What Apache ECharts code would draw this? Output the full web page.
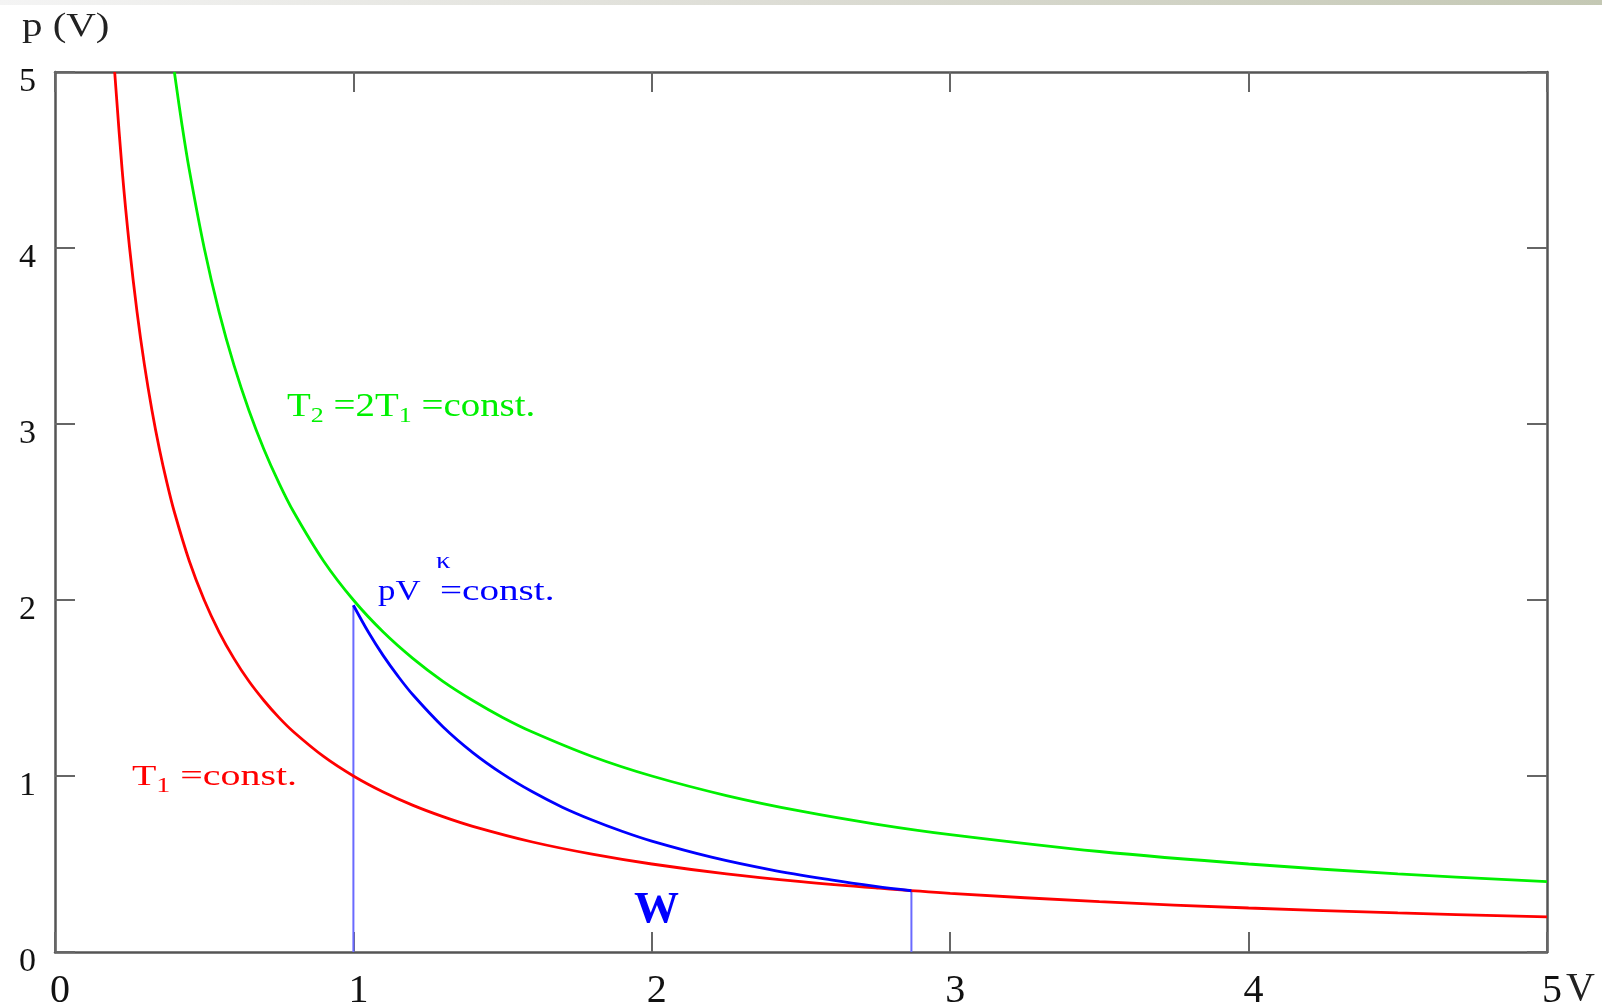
<!DOCTYPE html>
<html>
<head>
<meta charset="utf-8">
<script src="https://cdn.jsdelivr.net/npm/echarts@6/dist/echarts.min.js"></script>
<style>
html,body{margin:0;padding:0;background:#fff;}
#c{width:1602px;height:1007px;}
</style>
</head>
<body>
<div id="c"></div>
<script>
// Tick labels
var xTicks = [0, 1, 2, 3, 4, 5];
var yTicks = [0, 1, 2, 3, 4, 5];

// Isotherm T1 = const. (red): [V, p]
var isoT1 = [
  [0.2, 5.000], [0.225, 4.444], [0.25, 4.000], [0.275, 3.636], [0.3, 3.333],
  [0.325, 3.077], [0.35, 2.857], [0.375, 2.667], [0.4, 2.500], [0.45, 2.222],
  [0.5, 2.000], [0.55, 1.818], [0.6, 1.667], [0.65, 1.538], [0.7, 1.429],
  [0.75, 1.333], [0.8, 1.250], [0.9, 1.111], [1.0, 1.000], [1.1, 0.909],
  [1.2, 0.833], [1.3, 0.769], [1.4, 0.714], [1.6, 0.625], [1.8, 0.556],
  [2.0, 0.500], [2.25, 0.444], [2.5, 0.400], [2.75, 0.364], [3.0, 0.333],
  [3.5, 0.286], [4.0, 0.250], [4.5, 0.222], [5.0, 0.200]
];

// Isotherm T2 = 2T1 = const. (green): [V, p]
var isoT2 = [
  [0.4, 5.000], [0.425, 4.706], [0.45, 4.444], [0.5, 4.000], [0.55, 3.636],
  [0.6, 3.333], [0.65, 3.077], [0.7, 2.857], [0.75, 2.667], [0.8, 2.500],
  [0.9, 2.222], [1.0, 2.000], [1.1, 1.818], [1.2, 1.667], [1.3, 1.538],
  [1.4, 1.429], [1.5, 1.333], [1.6, 1.250], [1.8, 1.111], [2.0, 1.000],
  [2.25, 0.889], [2.5, 0.800], [2.75, 0.727], [3.0, 0.667], [3.5, 0.571],
  [4.0, 0.500], [4.5, 0.444], [5.0, 0.400]
];

// Adiabat pV^kappa = const. (blue): [V, p]
var adiabat = [
  [1.0, 1.970], [1.05, 1.818], [1.1, 1.684], [1.15, 1.566], [1.2, 1.460],
  [1.3, 1.280], [1.4, 1.133], [1.5, 1.012], [1.6, 0.910], [1.7, 0.823],
  [1.8, 0.750], [1.9, 0.686], [2.0, 0.630], [2.2, 0.539], [2.4, 0.467],
  [2.6, 0.410], [2.75, 0.373], [2.87, 0.348]
];

// Vertical boundary lines of the work area W
var leftEdge = [[1.0, 0], [1.0, 1.97]];
var rightEdge = [[2.87, 0], [2.87, 0.348]];

var chart = echarts.init(document.getElementById('c'), null, {renderer: 'canvas'});
var serif = '"Liberation Serif", "DejaVu Serif", serif';
var axisColor = '#555';
var green = '#00f000';
var tickStyle = {show: true, inside: true, length: 20, lineStyle: {color: '#666', width: 2}};
var lineAx = {show: true, onZero: false, lineStyle: {color: axisColor, width: 2.5}};

var option = {
  backgroundColor: '#fff',
  animation: false,
  grid: {left: 55, top: 72, width: 1492, height: 880, containLabel: false, outerBoundsMode: 'none'},
  xAxis: [{
    type: 'value', min: 0, max: 5, interval: 1, position: 'bottom',
    axisLine: lineAx, axisTick: tickStyle, splitLine: {show: false},
    axisLabel: {
      fontFamily: serif, fontSize: 40, color: '#111', margin: 19,
      padding: [0, 0, 0, 10],
      formatter: function (v) { return xTicks.indexOf(v) >= 0 ? String(v) : ''; }
    }
  }, {
    type: 'value', min: 0, max: 5, interval: 1, position: 'top',
    axisLine: lineAx, axisTick: tickStyle, splitLine: {show: false}, axisLabel: {show: false}
  }],
  yAxis: [{
    type: 'value', min: 0, max: 5, interval: 1, position: 'left',
    axisLine: lineAx, axisTick: tickStyle, splitLine: {show: false},
    axisLabel: {
      fontFamily: serif, fontSize: 34, color: '#111', margin: 19,
      verticalAlign: 'top', lineHeight: 20,
      formatter: function (v) { return yTicks.indexOf(v) >= 0 ? String(v) : ''; }
    }
  }, {
    type: 'value', min: 0, max: 5, interval: 1, position: 'right',
    axisLine: lineAx, axisTick: tickStyle, splitLine: {show: false}, axisLabel: {show: false}
  }],
  series: [
    {name: 'T1', type: 'line', data: isoT1, showSymbol: false, smooth: 0.35,
     lineStyle: {color: '#ff0000', width: 2.8}, z: 3},
    {name: 'T2', type: 'line', data: isoT2, showSymbol: false, smooth: 0.35,
     lineStyle: {color: green, width: 2.8}, z: 3},
    {name: 'adiabat', type: 'line', data: adiabat, showSymbol: false, smooth: 0.35,
     lineStyle: {color: '#0000ff', width: 2.8}, z: 4},
    {name: 'edgeL', type: 'line', data: leftEdge, showSymbol: false,
     lineStyle: {color: '#6a6aff', width: 2}, z: 2},
    {name: 'edgeR', type: 'line', data: rightEdge, showSymbol: false,
     lineStyle: {color: '#6a6aff', width: 2}, z: 2}
  ],
  graphic: [
    {type: 'rect', x: 0, y: 0, z: 100,
     shape: {width: 1602, height: 5},
     style: {fill: new echarts.graphic.LinearGradient(0, 0, 1, 0, [
       {offset: 0, color: '#f4f4f4'}, {offset: 0.5, color: '#dcdcd4'}, {offset: 1, color: '#c4c8b4'}])}},
    {type: 'text', x: 22, y: 11, scaleX: 1.24, z: 100,
     style: {text: 'p (V)', font: '33px ' + serif, fill: '#222', verticalAlign: 'top'}},
    {type: 'text', x: 1566, y: 969, z: 100,
     style: {text: 'V', font: '40px ' + serif, fill: '#222', verticalAlign: 'top'}},
    {type: 'text', x: 287, y: 387, scaleX: 1.18, z: 100,
     style: {
       verticalAlign: 'top',
       text: '{n|T}{s|2}{n| =2T}{s|1}{n| =const.}',
       rich: {
         n: {fontFamily: serif, fontSize: 33, lineHeight: 40, verticalAlign: 'middle', fill: green},
         s: {fontFamily: serif, fontSize: 22, lineHeight: 16, verticalAlign: 'bottom', fill: green}
       }
     }},
    {type: 'text', x: 132, y: 757, scaleX: 1.33, z: 100,
     style: {
       verticalAlign: 'top',
       text: '{n|T}{s|1}{n| =const.}',
       rich: {
         n: {fontFamily: serif, fontSize: 30, lineHeight: 40, verticalAlign: 'middle', fill: '#ff0000'},
         s: {fontFamily: serif, fontSize: 21, lineHeight: 16, verticalAlign: 'bottom', fill: '#ff0000'}
       }
     }},
    {type: 'text', x: 378, y: 578, scaleX: 1.2, z: 100,
     style: {text: 'pV', font: '29px ' + serif, fill: '#0000ff', verticalAlign: 'top'}},
    {type: 'text', x: 440, y: 578, scaleX: 1.35, z: 100,
     style: {text: '=const.', font: '29px ' + serif, fill: '#0000ff', verticalAlign: 'top'}},
    {type: 'text', x: 436, y: 550, scaleX: 1.2, z: 100,
     style: {text: 'κ', font: '24px ' + serif, fill: '#0000ff', verticalAlign: 'top'}},
    {type: 'text', x: 634, y: 888, z: 100,
     style: {text: 'W', font: 'bold 45px ' + serif, fill: '#0000ff', verticalAlign: 'top'}}
  ]
};
chart.setOption(option);
</script>
</body>
</html>
